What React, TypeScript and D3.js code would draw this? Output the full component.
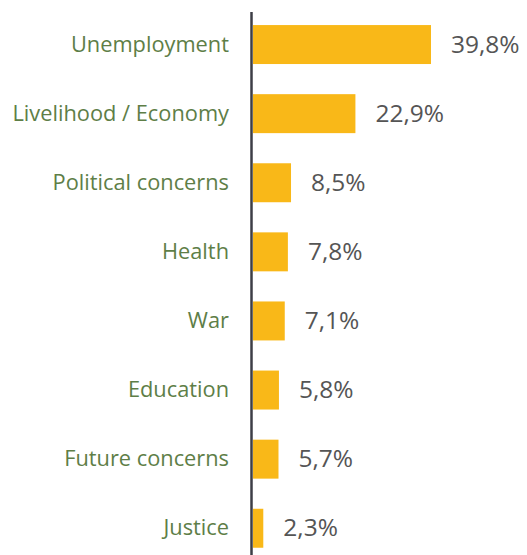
import * as d3 from "d3";
import { useEffect, useRef } from "react";

const categories = [
  "Unemployment",
  "Livelihood / Economy",
  "Political concerns",
  "Health",
  "War",
  "Education",
  "Future concerns",
  "Justice",
];
const values = [39.8, 22.9, 8.5, 7.8, 7.1, 5.8, 5.7, 2.3];
const valueLabels = ["39,8%", "22,9%", "8,5%", "7,8%", "7,1%", "5,8%", "5,7%", "2,3%"];

const W = 527;
const H = 555;

const App = () => {
  const ref = useRef<SVGSVGElement>(null);

  useEffect(() => {
    const svg = d3.select(ref.current);
    svg.selectAll("*").remove();

    const font = "'Open Sans', 'Noto Sans', sans-serif";
    const left = 253;

    // y bands
    const y = d3
      .scaleBand<string>()
      .domain(categories)
      .range([10, 562.8])
      .paddingInner(0.436)
      .paddingOuter(0.218);

    // x linear from zero
    const x = d3.scaleLinear().domain([0, 39.8]).range([left, 431]);

    const rows = categories.map((c, i) => ({ c, v: values[i], label: valueLabels[i] }));

    // bars
    svg
      .selectAll("rect.bar")
      .data(rows)
      .join("rect")
      .attr("class", "bar")
      .attr("x", x(0))
      .attr("y", (d) => y(d.c)!)
      .attr("width", (d) => x(d.v) - x(0))
      .attr("height", y.bandwidth())
      .attr("fill", "#F9B818");

    // category labels
    svg
      .selectAll("text.cat")
      .data(rows)
      .join("text")
      .attr("class", "cat")
      .attr("x", 229)
      .attr("y", (d) => y(d.c)! + y.bandwidth() / 2)
      .attr("dy", "0.33em")
      .attr("text-anchor", "end")
      .attr("font-family", font)
      .attr("font-size", 21.8)
      .attr("fill", "#5E7E47")
      .text((d) => d.c);

    // value labels
    svg
      .selectAll("text.val")
      .data(rows)
      .join("text")
      .attr("class", "val")
      .attr("x", (d) => x(d.v) + 20)
      .attr("y", (d) => y(d.c)! + y.bandwidth() / 2)
      .attr("dy", "0.33em")
      .attr("font-family", font)
      .attr("font-size", 24.5)
      .attr("fill", "#555555")
      .text((d) => d.label);

    // axis line
    svg
      .append("line")
      .attr("x1", left - 1.5)
      .attr("x2", left - 1.5)
      .attr("y1", 12)
      .attr("y2", 562)
      .attr("stroke", "#3D3E46")
      .attr("stroke-width", 2.5);
  }, []);

  return (
    <svg
      ref={ref}
      width={W}
      height={H}
      style={{ position: "fixed", left: 0, top: 0, background: "#fff" }}
    />
  );
};

export default App;
